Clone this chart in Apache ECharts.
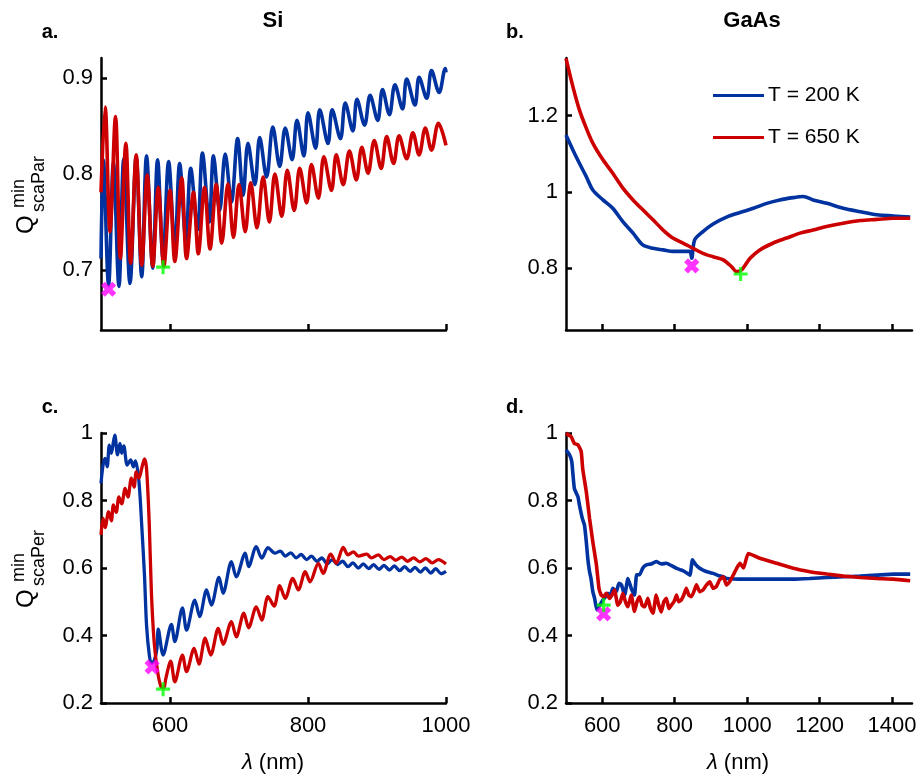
<!DOCTYPE html>
<html><head><meta charset="utf-8">
<script src="https://cdn.jsdelivr.net/npm/echarts@6/dist/echarts.min.js"></script>
<style>html,body{margin:0;padding:0;background:#fff}#c{width:923px;height:777px}</style>
</head><body><div id="c"></div>
<script>
// ---------- Panel a: Si, Q_scaPar ----------
const aBlueX = [500,503.5,511,518,526,533,542,551,559,566,575,582,590,598,607,614,623,630,640,647,657,663,672,680,689,698,706,713,723,730,740,749,759,767,777,784,794,800,811,817,829,835,847,854,865,871,882,890,901,908,918,926,937,943,955,961,972,979,990,999,1000];
const aBlueY = [0.712,0.815,0.684,0.812,0.683,0.816,0.686,0.818,0.693,0.819,0.702,0.815,0.712,0.813,0.723,0.811,0.732,0.806,0.742,0.822,0.750,0.819,0.762,0.821,0.771,0.837,0.778,0.832,0.789,0.838,0.797,0.849,0.808,0.848,0.815,0.856,0.819,0.864,0.827,0.867,0.832,0.867,0.837,0.874,0.845,0.878,0.851,0.882,0.856,0.888,0.862,0.893,0.868,0.899,0.872,0.901,0.879,0.908,0.885,0.910,0.906];
const aRedX = [500,506,513,521,528,536,543,551,559,567,575,583,591,600,607,617,624,634,641,650,658,667,675,684,692,700,709,717,726,735,744,752,762,770,780,788,798,805,815,823,834,841,851,860,870,878,887,896,906,914,924,932,943,952,961,970,979,989,1000];
const aRedY = [0.781,0.870,0.740,0.860,0.712,0.832,0.707,0.820,0.705,0.799,0.704,0.786,0.704,0.783,0.709,0.796,0.712,0.781,0.717,0.786,0.722,0.789,0.728,0.790,0.734,0.789,0.740,0.791,0.744,0.797,0.750,0.800,0.756,0.804,0.762,0.806,0.770,0.810,0.775,0.818,0.783,0.820,0.789,0.824,0.794,0.828,0.801,0.835,0.806,0.839,0.811,0.840,0.816,0.843,0.820,0.848,0.825,0.853,0.830];

// ---------- Panel b: GaAs, Q_scaPar ----------
const bBlueX = [500,519,537,556,574,602,629,657,685,712,740,768,795,823,842,847,855,878,906,943,980,1017,1054,1090,1127,1155,1182,1220,1265,1312,1358,1404,1450];
const bBlueY = [1.149,1.110,1.075,1.040,1.005,0.979,0.957,0.922,0.892,0.861,0.852,0.848,0.844,0.844,0.844,0.826,0.874,0.896,0.916,0.934,0.946,0.957,0.970,0.979,0.985,0.988,0.979,0.970,0.957,0.948,0.940,0.937,0.934];
const bRedX = [500,519,537,556,574,602,629,657,685,712,740,768,795,823,851,878,906,934,957,971,985,1008,1035,1072,1109,1146,1182,1219,1265,1312,1358,1404,1450];
const bRedY = [1.350,1.276,1.215,1.167,1.128,1.084,1.049,1.010,0.979,0.953,0.927,0.900,0.879,0.866,0.852,0.839,0.830,0.822,0.804,0.791,0.796,0.826,0.848,0.866,0.879,0.892,0.900,0.909,0.918,0.925,0.928,0.931,0.931];

// ---------- Panel c: Si, Q_scaPer ----------
const cBlueX = [500,503,506,509,512,515,518,520,524,527.5,530,533,538,543,547,550,555,559,563,566,570,573,577,581,583,590,602,607,618,624,636,643,653,660,671,677,689,696,709,714,725,733,742,752,760,767,775,783,790,798,805,813,820,828,835,843,850,858,865,873,880,888,895,903,910,918,925,933,940,948,955,963,970,978,985,993,1000];
const cBlueY = [0.851,0.905,0.925,0.900,0.964,0.940,0.974,0.994,0.935,0.969,0.940,0.962,0.905,0.920,0.900,0.917,0.856,0.727,0.579,0.431,0.342,0.318,0.325,0.360,0.419,0.342,0.433,0.382,0.482,0.416,0.505,0.456,0.535,0.490,0.572,0.525,0.619,0.574,0.644,0.604,0.663,0.629,0.660,0.644,0.650,0.635,0.645,0.630,0.640,0.625,0.635,0.620,0.630,0.612,0.625,0.610,0.620,0.604,0.615,0.600,0.612,0.598,0.610,0.596,0.608,0.594,0.606,0.592,0.604,0.590,0.602,0.588,0.600,0.585,0.598,0.583,0.590];
const cRedX = [500,503,506,511,515,518,522,526,530,535,539,544,548,551,555,559,563,566,570,573,577,582,587,591,594,601,607,618,624,635,642,651,659,670,677,689,696,707,714,725,733,742,751,759,767,778,786,796,803,815,822,833,841,851,858,866,873,885,892,902,910,919,927,936,944,953,962,971,980,989,1000];
const cRedY = [0.698,0.747,0.720,0.767,0.740,0.787,0.765,0.811,0.790,0.836,0.810,0.866,0.840,0.885,0.866,0.895,0.923,0.895,0.727,0.530,0.382,0.293,0.248,0.244,0.273,0.324,0.263,0.342,0.293,0.362,0.315,0.392,0.342,0.421,0.374,0.441,0.396,0.466,0.423,0.485,0.446,0.515,0.487,0.548,0.510,0.569,0.535,0.589,0.559,0.614,0.584,0.641,0.614,0.661,0.639,0.648,0.635,0.641,0.630,0.639,0.625,0.634,0.623,0.632,0.620,0.630,0.618,0.628,0.615,0.625,0.612];

// ---------- Panel d: GaAs, Q_scaPer ----------
const dBlueX = [500,510,516,523,533,537,545,551,556,560,565,569,574,579,585,593,602,609,616,622,629,639,646,653,662,671,680,689,695,703,712,722,735,749,763,777,791,805,818,828,842,849,858,868,878,892,906,920,934,943,990,1035,1081,1127,1173,1220,1266,1312,1358,1404,1450];
const dBlueY = [0.950,0.935,0.915,0.836,0.811,0.787,0.747,0.727,0.678,0.629,0.589,0.569,0.530,0.510,0.476,0.490,0.505,0.515,0.525,0.515,0.540,0.530,0.555,0.550,0.520,0.569,0.540,0.520,0.580,0.580,0.600,0.609,0.612,0.619,0.612,0.614,0.607,0.599,0.594,0.589,0.579,0.624,0.610,0.600,0.594,0.588,0.584,0.578,0.574,0.569,0.567,0.567,0.567,0.567,0.569,0.572,0.574,0.576,0.579,0.582,0.582];
const dRedX = [500,514,523,533,542,546,556,565,574,584,591,597,604,611,620,627,634,643,650,657,664,671,680,689,696,703,710,717,726,733,740,749,756,763,770,777,784,791,798,805,811,818,825,832,839,846,853,860,869,878,888,897,906,915,924,934,943,952,962,971,980,990,1003,1035,1081,1127,1173,1220,1266,1312,1358,1404,1450];
const dRedY = [0.999,0.989,0.969,0.965,0.945,0.895,0.826,0.747,0.678,0.609,0.540,0.520,0.515,0.525,0.510,0.520,0.535,0.490,0.500,0.525,0.500,0.485,0.520,0.471,0.500,0.515,0.490,0.485,0.510,0.480,0.466,0.520,0.490,0.470,0.500,0.510,0.480,0.490,0.500,0.520,0.500,0.505,0.520,0.540,0.520,0.515,0.530,0.550,0.530,0.535,0.550,0.559,0.540,0.545,0.565,0.574,0.550,0.560,0.580,0.599,0.614,0.600,0.643,0.629,0.614,0.599,0.589,0.582,0.576,0.572,0.569,0.567,0.562];

// ---------- Minimum markers [lambda, value] per panel a,b,c,d ----------
const minBlue = [[511,0.680],[847,0.806],[574,0.307],[604,0.464]];
const minRed  = [[590,0.703],[982,0.785],[590,0.241],[604,0.490]];

// ---------- Ticks & labels ----------
const xTicksSi = [600,800,1000];
const xTicksGaAs = [600,800,1000,1200,1400];
const yTicksA = [0.7,0.8,0.9];
const yTicksB = [0.8,1,1.2];
const yTicksCD = [0.2,0.4,0.6,0.8,1];
const titles = ['Si','GaAs'];
const panelLetters = ['a.','b.','c.','d.'];
const legendNames = ['T = 200 K','T = 650 K'];

const BLUE = '#0033a0', RED = '#cc0000';
const FONT = '"Liberation Sans", Arial, Helvetica, sans-serif';
const zip = (xs, ys) => xs.map((x, i) => [x, ys[i]]);

const grids = [
  {left:101, top:58, width:345, height:272},
  {left:566, top:58, width:346, height:272},
  {left:101, top:433, width:345, height:270},
  {left:566, top:433, width:346, height:270}
];
const xRanges = [[500,1000],[500,1455],[500,1000],[500,1455]];
const yRanges = [[0.6375,0.921],[0.638,1.351],[0.2,1.0],[0.2,1.0]];
const xTicks = [xTicksSi, xTicksGaAs, xTicksSi, xTicksGaAs];
const yTicks = [yTicksA, yTicksB, yTicksCD, yTicksCD];
const fmt = v => String(v);

const axisLine = {show:true, lineStyle:{color:'#000', width:2.5}};
const xAxis = grids.map((g, i) => ({
  type:'value', gridIndex:i, min:xRanges[i][0], max:xRanges[i][1],
  axisLine, splitLine:{show:false},
  axisTick:{show:true, inside:true, length:6, lineStyle:{color:'#000', width:2.5}, customValues:xTicks[i]},
  axisLabel:{show:i>=2, customValues:xTicks[i], formatter:fmt, fontSize:22, color:'#000', fontFamily:FONT, margin:12}
}));
const yAxis = grids.map((g, i) => ({
  type:'value', gridIndex:i, min:yRanges[i][0], max:yRanges[i][1],
  axisLine, splitLine:{show:false},
  axisTick:{show:true, inside:true, length:6, lineStyle:{color:'#000', width:2.5}, customValues:yTicks[i]},
  axisLabel:{show:true, customValues:yTicks[i], formatter:fmt, fontSize:22, color:'#000', fontFamily:FONT, margin:8}
}));

const lineData = [
  [zip(aBlueX,aBlueY), zip(aRedX,aRedY)],
  [zip(bBlueX,bBlueY), zip(bRedX,bRedY)],
  [zip(cBlueX,cBlueY), zip(cRedX,cRedY)],
  [zip(dBlueX,dBlueY), zip(dRedX,dRedY)]
];
const smooths = [0.35, 0.3, 0.3, 0.15];
const widths = [3.6, 3.6, 3.3, 3.6];
const series = [];
lineData.forEach((pair, i) => {
  [BLUE, RED].forEach((col, k) => {
    series.push({
      type:'line', name:legendNames[k], xAxisIndex:i, yAxisIndex:i,
      data:pair[k], showSymbol:false, smooth:smooths[i],
      lineStyle:{color:col, width:widths[i]}, itemStyle:{color:col},
      emphasis:{disabled:true}, animation:false, z:2+k
    });
  });
});
const plusPath = 'path://M3.9,0 H6.1 V3.9 H10 V6.1 H6.1 V10 H3.9 V6.1 H0 V3.9 H3.9 Z';
const thickPlus = 'path://M3.3,0 H6.7 V3.3 H10 V6.7 H6.7 V10 H3.3 V6.7 H0 V3.3 H3.3 Z';
minBlue.forEach((p, i) => {
  series.push({type:'scatter', xAxisIndex:i, yAxisIndex:i, data:[p], symbol:thickPlus, symbolRotate:45,
    symbolSize:16, itemStyle:{color:'#ff00ff'}, z:10, animation:false, emphasis:{disabled:true}});
});
minRed.forEach((p, i) => {
  series.push({type:'scatter', xAxisIndex:i, yAxisIndex:i, data:[p], symbol:plusPath,
    symbolSize:14, itemStyle:{color:'#00ff00'}, z:11, animation:false, emphasis:{disabled:true}});
});

const txt = (x, y, text, size, opts) => Object.assign({
  type:'text', x, y,
  style:Object.assign({text, font:(opts && opts.bold ? 'bold ' : '') + size + 'px ' + FONT, fill:'#000',
    align:'center', verticalAlign:'middle'}, opts && opts.style)
}, opts && opts.el);

const graphic = [];
graphic.push(txt(273, 21, titles[0], 22, {bold:true}));
graphic.push(txt(752, 21, titles[1], 22, {bold:true}));
[[50,32],[515,32],[50,407],[515,407]].forEach((p, i) => graphic.push(txt(p[0], p[1], panelLetters[i], 20, {bold:true})));
// y axis names (rotated)
[[234,'scaPar'],[608,'scaPer']].forEach(([yb, sub]) => {
  graphic.push(txt(26, yb, 'Q', 24, {style:{align:'left'}, el:{rotation:Math.PI/2}}));
  graphic.push(txt(19, yb-26, 'min', 18, {style:{align:'left'}, el:{rotation:Math.PI/2}}));
  graphic.push(txt(39, yb-22, sub, 18, {style:{align:'left'}, el:{rotation:Math.PI/2}}));
});
// x axis names
[273, 738].forEach(cx => {
  graphic.push({type:'text', x:cx, y:763, style:{text:'{i|λ} (nm)', font:'22px ' + FONT, fill:'#000',
    align:'center', verticalAlign:'middle', rich:{i:{fontStyle:'italic', fontSize:22, fontFamily:FONT}}}});
});

const chart = echarts.init(document.getElementById('c'), null, {renderer:'canvas'});
chart.setOption({
  backgroundColor:'#fff', animation:false,
  grid:grids,
  xAxis, yAxis, series, graphic,
  legend:{data:legendNames.map(n => ({name:n, icon:'rect'})), orient:'vertical', left:708, top:80,
    itemWidth:51, itemHeight:3, itemGap:21, itemStyle:{borderWidth:0}, selectedMode:false,
    textStyle:{fontSize:21, color:'#000', fontFamily:FONT, padding:[0,0,0,-1]}}
});
</script></body></html>
